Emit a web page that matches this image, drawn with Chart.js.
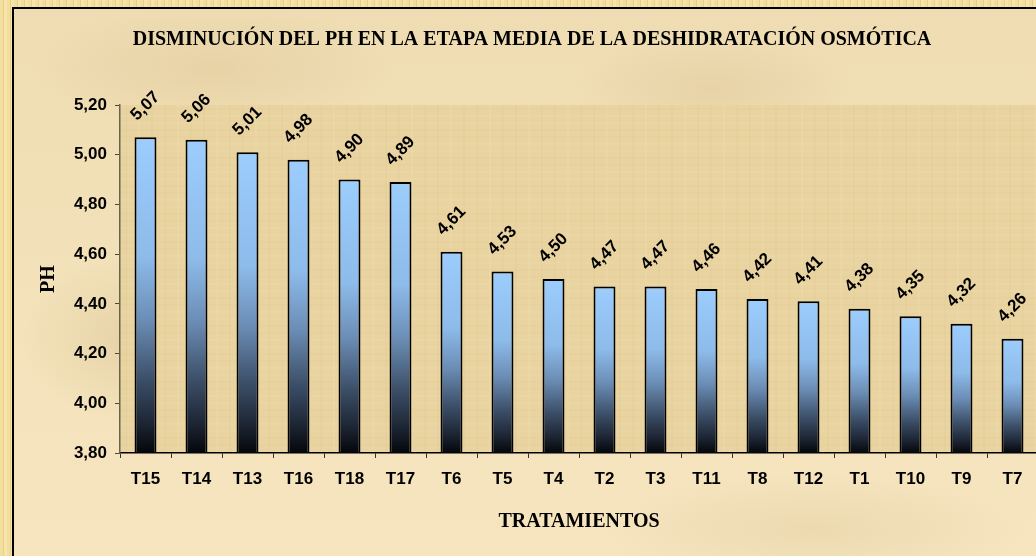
<!DOCTYPE html>
<html>
<head>
<meta charset="utf-8">
<script src="https://cdn.jsdelivr.net/npm/chart.js@4.4.1/dist/chart.umd.min.js"></script>
<style>
  html, body { margin: 0; padding: 0; width: 1036px; height: 556px; overflow: hidden; }
  body {
    background: repeating-linear-gradient(90deg, #f3de9e 0 3px, #e8d08c 3px 4px, #f6e5aa 4px 7px);
  }
  #frame {
    position: absolute; left: 12px; top: 7px; width: 1100px; height: 600px;
    border-left: 2px solid #000; border-top: 2px solid #000;
    background:
      radial-gradient(ellipse 160px 120px at 120px 330px, rgba(205,180,130,0.35), rgba(205,180,130,0) 70%),
      radial-gradient(ellipse 260px 90px at 200px 60px, rgba(215,190,140,0.35), rgba(215,190,140,0) 70%),
      radial-gradient(ellipse 200px 80px at 700px 80px, rgba(210,185,135,0.3), rgba(210,185,135,0) 70%),
      radial-gradient(ellipse 300px 80px at 800px 520px, rgba(210,185,135,0.25), rgba(210,185,135,0) 70%),
      linear-gradient(180deg, #efdcb2 0%, #f3e2ba 50%, #f6e5c0 100%);
  }
  #wrap { position: absolute; left: 0; top: 0; width: 1064px; height: 556px; }
</style>
</head>
<body>
<div id="frame"></div>
<div id="wrap"><canvas id="phChart" width="1064" height="556"></canvas></div>
<script>
const categories = ['T15', 'T14', 'T13', 'T16', 'T18', 'T17', 'T6', 'T5', 'T4', 'T2', 'T3', 'T11', 'T8', 'T12', 'T1', 'T10', 'T9', 'T7'];
const phValues = [5.07, 5.06, 5.01, 4.98, 4.90, 4.89, 4.61, 4.53, 4.50, 4.47, 4.47, 4.46, 4.42, 4.41, 4.38, 4.35, 4.32, 4.26];
const yMin = 3.8;
const yMax = 5.2;
const yStep = 0.2;

const chartTitle = 'DISMINUCIÓN DEL PH EN LA ETAPA MEDIA DE LA DESHIDRATACIÓN OSMÓTICA';
const fmt = v => Number(v).toFixed(2).replace('.', ',');

// papyrus look for the plot area
const plotBackground = {
  id: 'plotBackground',
  beforeDraw(chart) {
    const { ctx, chartArea: a } = chart;
    ctx.save();
    ctx.fillStyle = '#e9d4a1';
    ctx.fillRect(a.left, a.top, a.right - a.left, a.bottom - a.top);
    for (let y = a.top + 3; y < a.bottom; y += 7) {
      ctx.fillStyle = (y % 4 < 2) ? 'rgba(190,160,100,0.05)' : 'rgba(255,245,210,0.07)';
      ctx.fillRect(a.left, y, a.right - a.left, 2);
    }
    for (let x = a.left + 5; x < a.right; x += 13) {
      ctx.fillStyle = (x % 3 === 0) ? 'rgba(255,248,220,0.09)' : 'rgba(185,155,95,0.05)';
      ctx.fillRect(x, a.top, 2, a.bottom - a.top);
    }
    ctx.restore();
  }
};

// rotated value labels above the bars
const valueLabels = {
  id: 'valueLabels',
  afterDatasetsDraw(chart) {
    const { ctx } = chart;
    const meta = chart.getDatasetMeta(0);
    ctx.save();
    ctx.font = 'bold 17px "Liberation Sans", Arial, sans-serif';
    ctx.fillStyle = '#000';
    ctx.textAlign = 'center';
    ctx.textBaseline = 'middle';
    meta.data.forEach((bar, i) => {
      ctx.save();
      ctx.translate(bar.x, bar.y - 31);
      ctx.rotate(-Math.PI / 4);
      ctx.fillText(fmt(phValues[i]), 0, 0);
      ctx.restore();
    });
    ctx.restore();
  }
};

function barGradient(context) {
  const chart = context.chart;
  const { ctx, chartArea, scales } = chart;
  if (!chartArea || context.dataIndex === undefined) return '#99ccff';
  const top = scales.y.getPixelForValue(phValues[context.dataIndex]);
  const g = ctx.createLinearGradient(0, top, 0, chartArea.bottom);
  g.addColorStop(0, '#9ccdfd');
  g.addColorStop(0.38, '#8dbbea');
  g.addColorStop(0.58, '#6b8db5');
  g.addColorStop(0.77, '#3b4e67');
  g.addColorStop(0.91, '#1c2432');
  g.addColorStop(1, '#04060a');
  return g;
}

const ctx = document.getElementById('phChart').getContext('2d');
new Chart(ctx, {
  type: 'bar',
  data: {
    labels: categories,
    datasets: [{
      label: 'PH',
      data: phValues,
      backgroundColor: barGradient,
      borderColor: '#000',
      borderWidth: 2,
      borderSkipped: false,
      barPercentage: 0.43,
      categoryPercentage: 1.0
    }]
  },
  options: {
    responsive: false,
    animation: false,
    layout: { padding: { left: 26, right: 26, top: 0, bottom: 0 } },
    scales: {
      x: {
        afterFit: s => { s.height = 103; },
        grid: { drawOnChartArea: false, drawTicks: true, tickLength: 5, color: '#333', offset: true },
        border: { color: '#000', width: 1.5 },
        ticks: {
          color: '#000',
          padding: 11,
          font: { family: '"Liberation Sans", Arial, sans-serif', size: 17, weight: 'bold' }
        },
        title: {
          display: true,
          text: 'TRATAMIENTOS',
          color: '#000',
          padding: { top: 0, bottom: 22 },
          font: { family: '"Liberation Serif", "Times New Roman", serif', size: 20, weight: 'bold' }
        }
      },
      y: {
        min: yMin,
        max: yMax,
        afterFit: s => { s.width = 94; },
        grid: { drawOnChartArea: false, drawTicks: true, tickLength: 5, color: '#4a4a3a' },
        border: { color: '#66624f', width: 1.5 },
        ticks: {
          stepSize: yStep,
          color: '#000',
          padding: 8,
          callback: v => fmt(v),
          font: { family: '"Liberation Sans", Arial, sans-serif', size: 17, weight: 'bold' }
        },
        title: {
          display: true,
          text: 'PH',
          color: '#000',
          padding: { top: 11, bottom: 0 },
          font: { family: '"Liberation Serif", "Times New Roman", serif', size: 20, weight: 'bold' }
        }
      }
    },
    plugins: {
      legend: { display: false },
      tooltip: { enabled: false },
      title: {
        display: true,
        text: chartTitle,
        color: '#000',
        padding: { top: 28, bottom: 53 },
        font: { family: '"Liberation Serif", "Times New Roman", serif', size: 20, weight: 'bold' }
      }
    }
  },
  plugins: [plotBackground, valueLabels]
});
</script>
</body>
</html>
